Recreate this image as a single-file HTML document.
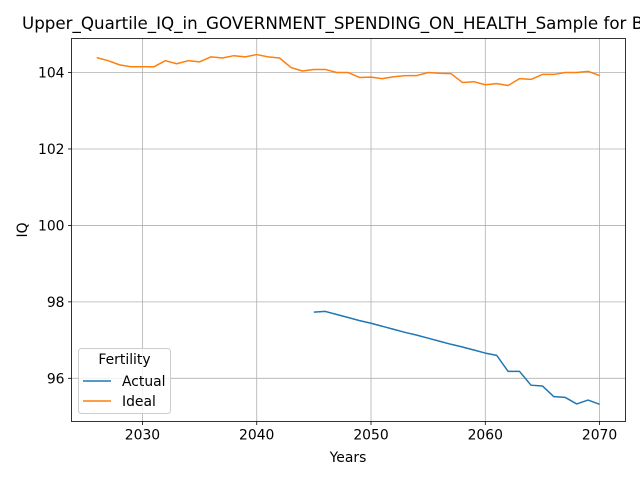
<!DOCTYPE html>
<html><head><meta charset="utf-8"><style>body{margin:0;background:#fff}svg{display:block;font-family:"DejaVu Sans","Liberation Sans",sans-serif}</style></head>
<body>
<svg id="chart" width="640" height="480" viewBox="0 0 640 480" xmlns="http://www.w3.org/2000/svg">
<rect x="0" y="0" width="640" height="480" fill="#fff"/>
<g id="grid"></g>
<g id="series"></g>
<rect x="71.5" y="38.5" width="554" height="383" fill="none" stroke="#000" stroke-width="0.8"/>
<g id="axes"></g>
<text x="22" y="29" font-size="16.7">Upper_Quartile_IQ_in_GOVERNMENT_SPENDING_ON_HEALTH_Sample for B</text>
<text x="348" y="462" font-size="13.9" text-anchor="middle">Years</text>
<text transform="translate(27,230) rotate(-90)" font-size="13.9" text-anchor="middle">IQ</text>
<g>
<rect x="78.5" y="348.5" width="92" height="65" rx="3" fill="#fff" fill-opacity="0.8" stroke="#ccc"/>
<text x="124.5" y="364" font-size="13.9" text-anchor="middle">Fertility</text>
<line x1="83" y1="381" x2="111" y2="381" stroke="#1f77b4" stroke-width="1.5"/>
<text x="122" y="386" font-size="13.9">Actual</text>
<line x1="83" y1="401" x2="111" y2="401" stroke="#ff7f0e" stroke-width="1.5"/>
<text x="122" y="406" font-size="13.9">Ideal</text>
</g>
</svg>
<script>
const xTicks=[2030,2040,2050,2060,2070];
const yTicks=[96,98,100,102,104];
const idealYears=[2026,2027,2028,2029,2030,2031,2032,2033,2034,2035,2036,2037,2038,2039,2040,2041,2042,2043,2044,2045,2046,2047,2048,2049,2050,2051,2052,2053,2054,2055,2056,2057,2058,2059,2060,2061,2062,2063,2064,2065,2066,2067,2068,2069,2070];
const idealValues=[104.39,104.31,104.2,104.15,104.15,104.15,104.31,104.23,104.31,104.28,104.41,104.38,104.44,104.41,104.47,104.41,104.38,104.13,104.04,104.08,104.08,104.0,104.0,103.87,103.88,103.84,103.89,103.92,103.92,104.0,103.98,103.97,103.74,103.76,103.68,103.71,103.66,103.84,103.82,103.95,103.95,104.0,104.0,104.03,103.92];
const actualYears=[2045,2046,2047,2048,2049,2050,2051,2052,2053,2054,2055,2056,2057,2058,2059,2060,2061,2062,2063,2064,2065,2066,2067,2068,2069,2070];
const actualValues=[97.73,97.75,97.67,97.59,97.51,97.44,97.36,97.28,97.2,97.13,97.05,96.97,96.89,96.82,96.74,96.66,96.6,96.18,96.18,95.82,95.8,95.52,95.5,95.33,95.43,95.32];
const L=71.5,R=625.5,T=38.5,B=421.5,x0=2023.79,x1=2072.27,y0=94.87,y1=104.89;
const xs=v=>L+(v-x0)/(x1-x0)*(R-L), ys=v=>B-(v-y0)/(y1-y0)*(B-T);
const NS="http://www.w3.org/2000/svg";
function mk(p,t,a){const e=document.createElementNS(NS,t);for(const k in a)e.setAttribute(k,a[k]);p.appendChild(e);return e;}
const g=document.getElementById('grid'),ax=document.getElementById('axes'),s=document.getElementById('series');
xTicks.forEach(v=>{const x=xs(v);
 const gl=mk(g,'line',{x1:x,x2:x,y1:T,y2:B,stroke:'#b0b0b0','stroke-width':0.8});
 
 mk(ax,'line',{x1:x,x2:x,y1:B,y2:B+3.5,stroke:'#000','stroke-width':0.8});
 const t=mk(ax,'text',{x:x,y:B+18,'font-size':13.9,'text-anchor':'middle'});t.textContent=v;
 });
yTicks.forEach(v=>{const y=ys(v);
 const gl=mk(g,'line',{x1:L,x2:R,y1:y,y2:y,stroke:'#b0b0b0','stroke-width':0.8});
 
 mk(ax,'line',{x1:L-3.5,x2:L,y1:y,y2:y,stroke:'#000','stroke-width':0.8});
 const t=mk(ax,'text',{x:L-7,y:y+5,'font-size':13.9,'text-anchor':'end'});t.textContent=v;
 });
function line(xsA,vs,c,n){const p=mk(s,'polyline',{points:xsA.map((x,i)=>xs(x)+','+ys(vs[i])).join(' '),fill:'none',stroke:c,'stroke-width':1.5,'stroke-linejoin':'round'});
 }
line(actualYears,actualValues,'#1f77b4','actual-line');
line(idealYears,idealValues,'#ff7f0e','ideal-line');
</script>
</body></html>
